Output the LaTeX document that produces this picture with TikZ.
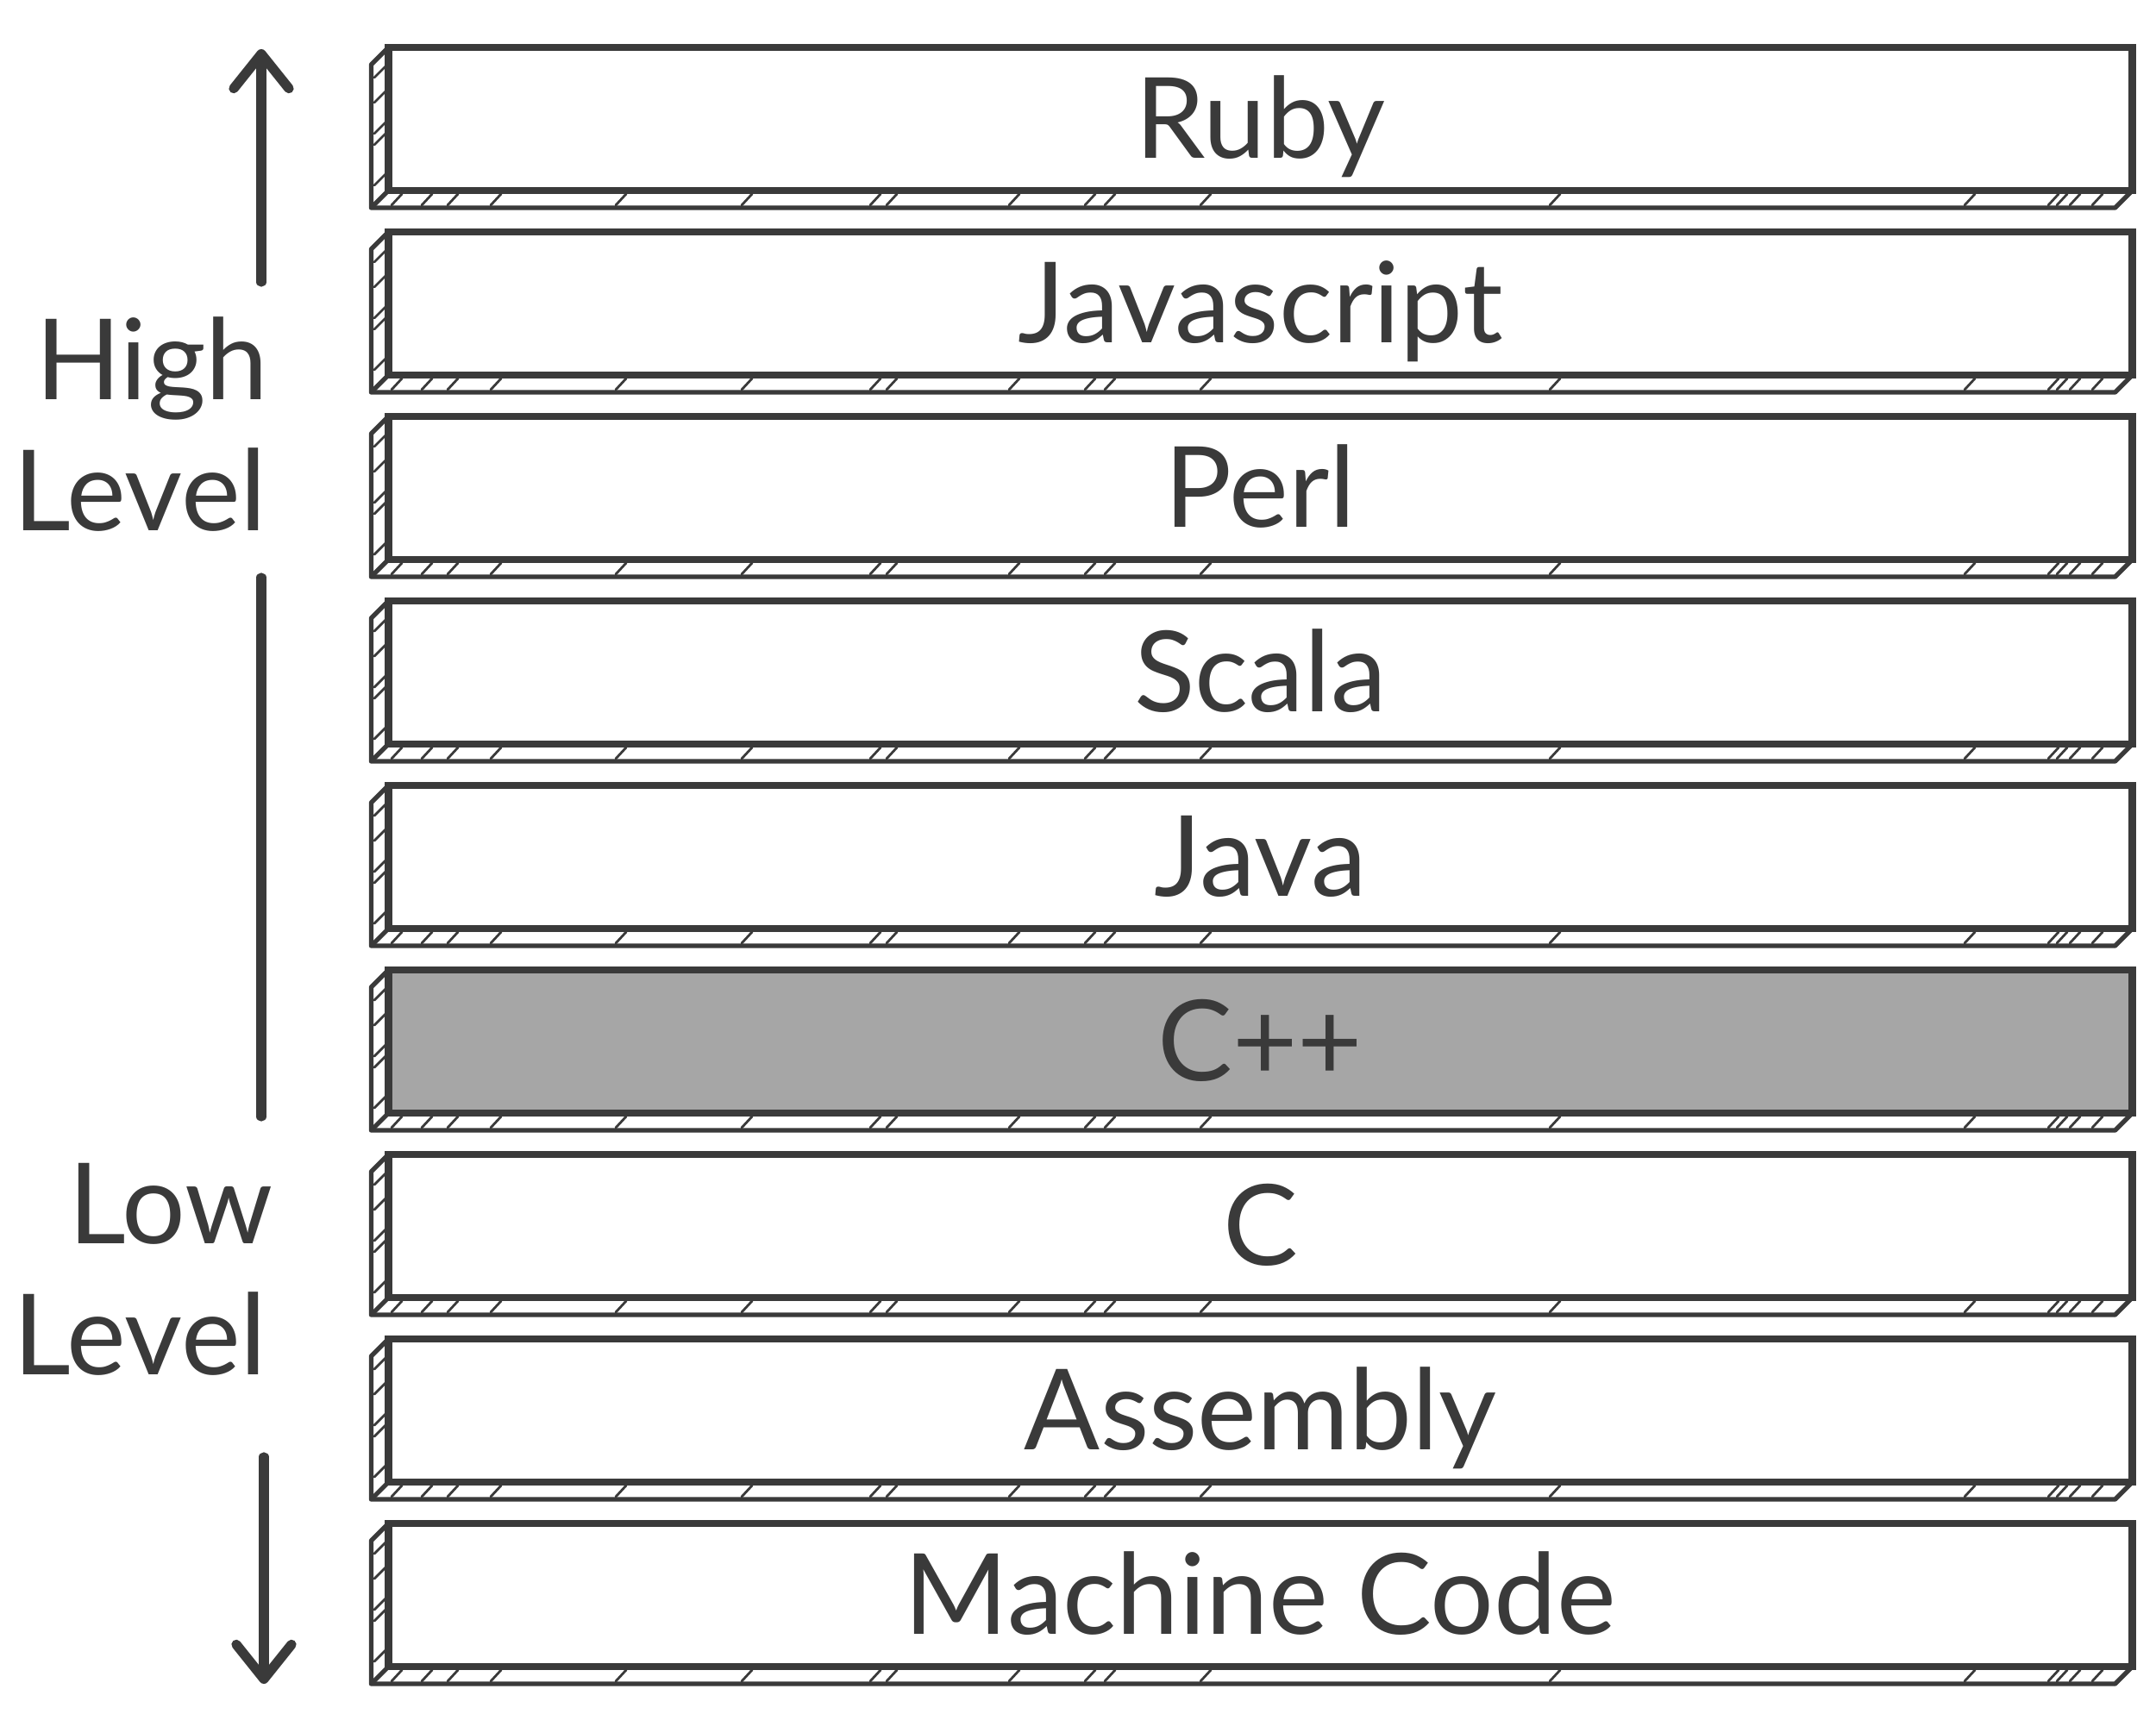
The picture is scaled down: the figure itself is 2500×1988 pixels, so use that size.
\documentclass[tikz,border=0pt]{standalone}
\usepackage{fontspec}
\setmainfont{Lato}
\usetikzlibrary{arrows.meta,calc}
\definecolor{ink}{HTML}{3A3A3A}
\definecolor{shade}{HTML}{A6A6A6}
\begin{document}
\begin{tikzpicture}[x=0.01cm,y=-0.01cm]

    \tikzset{
      layer/.style={
        draw=ink,
        line width=2.4pt,
        outer sep=0pt,
        inner sep=0pt,
        minimum width=20.21cm,
        minimum height=1.66cm,
        text height=0.91cm,
        text depth=0pt,
        text=ink,
        font=\fontsize{37}{44}\selectfont,
      },
      side/.style={draw=ink, line width=1.5pt, line join=round},
      hatch/.style={draw=ink, line width=0.8pt, line cap=round},
      level/.style={text=ink, inner sep=0pt, font=\fontsize{37}{44}\selectfont},
      level line/.style={draw=ink, line width=3.2pt, line cap=round},
      level arrow/.style={level line, -{Straight Barb[length=0.4cm,width=0.64cm,round]}},
    }
    \useasboundingbox (0,0) rectangle (2500,1988);

    \foreach \name/\lang/\fillc [count=\i from 0] in {ruby/Ruby/white, js/Javascript/white, perl/Perl/white, scala/Scala/white, java/Java/white, cpp/C++/shade, c/C/white, asm/Assembly/white, mc/Machine Code/white}{
      \pgfmathsetmacro{\ytop}{55+214*\i}
      \node[layer, fill=\fillc] (\name) at (1461.5,\ytop+83) {\lang};
      \draw[side] (\name.north west) -- ++(-20,20) -- ($(\name.south west)+(-20,20)$) -- ($(\name.south east)+(-20,20)$) -- (\name.south east);
      \draw[side] (\name.south west) -- ++(-20,20);
      \foreach \d in {28,57,93,106,153}
        \draw[hatch] (434,\ytop+\d+7) -- (447,\ytop+\d-6);
      \foreach \x in {461,496,526,576,721,867,1016,1035,1177,1265,1288,1399,1804,2285,2382,2392,2407,2433}
        \draw[hatch] (\x-7,\ytop+183) -- (\x+5,\ytop+170);
    }

    \node[level, anchor=base east] (high) at (312,463) {High};
    \node[level, anchor=base east] (highlevel) at (310,615) {Level};
    \node[level, anchor=base east] (low) at (317,1442) {Low};
    \node[level, anchor=base east] (lowlevel) at (310,1594) {Level};

    \coordinate (uptail) at (303,327);
    \coordinate (uptip) at (303,57);
    \coordinate (midtop) at (303,670);
    \coordinate (midbottom) at (303,1295);
    \coordinate (downtail) at (306,1690);
    \coordinate (downtip) at (306,1953);
    \draw[level arrow] (uptail) -- (uptip);
    \draw[level line] (midtop) -- (midbottom);
    \draw[level arrow] (downtail) -- (downtip);

\end{tikzpicture}
\end{document}
